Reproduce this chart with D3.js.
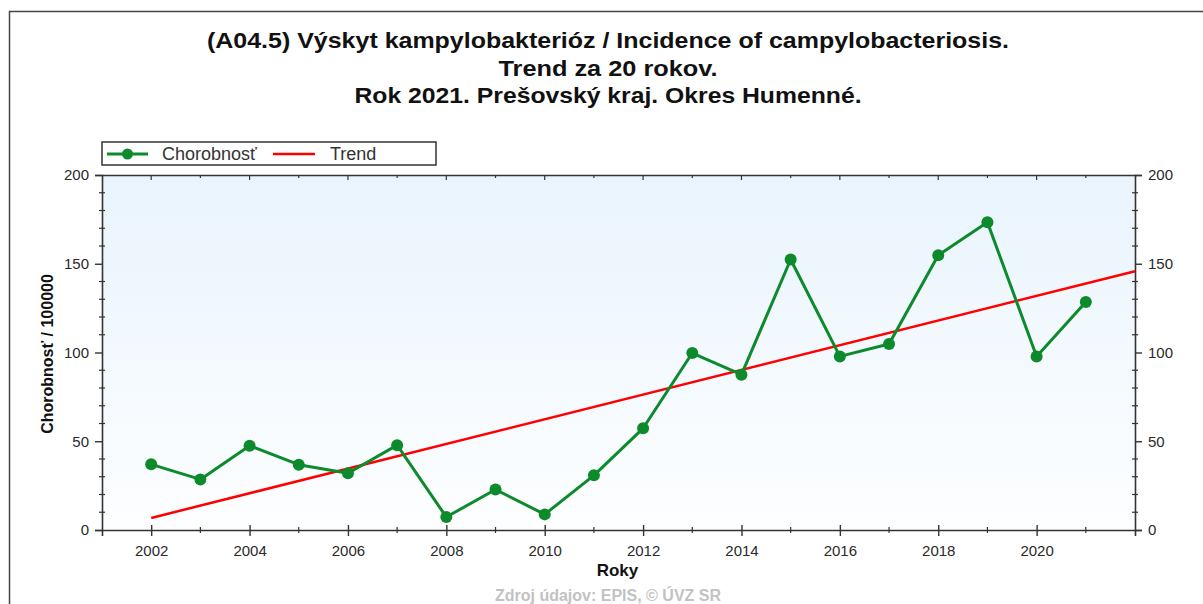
<!DOCTYPE html>
<html><head><meta charset="utf-8">
<script src="https://cdn.jsdelivr.net/npm/d3@7"></script>
<style>html,body{margin:0;padding:0;background:#fff;}svg{display:block;font-family:"Liberation Sans",Arial,sans-serif;}</style>
</head><body>
<script>
const years = [2002,2003,2004,2005,2006,2007,2008,2009,2010,2011,2012,2013,2014,2015,2016,2017,2018,2019,2020,2021];
const values = [37,28.5,47.5,36.8,32,47.8,7.3,22.8,8.8,30.8,57.3,99.7,87.5,152.4,97.8,104.8,154.8,173.4,97.8,128.4];
const trendYears = [2002,2022];
const trendValues = [6.8,145.8];
const xTickLabels = [2002,2004,2006,2008,2010,2012,2014,2016,2018,2020];
const yTickLabels = [0,50,100,150,200];
const titleLines = ["(A04.5) Výskyt kampylobakterióz / Incidence of campylobacteriosis.","Trend za 20 rokov.","Rok 2021. Prešovský kraj. Okres Humenné."];
const titleWidths = [802,219,507];
const seriesNames = ["Chorobnosť","Trend"];

const W=1203,H=604;
const L=102,R=1135,T=175,B=530;
const green="#0d8a2c", red="#ff0000", axisC="#333";
const svg=d3.select("body").append("svg").attr("width",W).attr("height",H);
const defs=svg.append("defs");
const g=defs.append("linearGradient").attr("id","bg").attr("x1",0).attr("y1",0).attr("x2",0).attr("y2",1);
g.append("stop").attr("offset","0%").attr("stop-color","#e9f4fd");
g.append("stop").attr("offset","100%").attr("stop-color","#fdfeff");

// outer frame
svg.append("rect").attr("x",9.5).attr("y",11.5).attr("width",1300).attr("height",700).attr("fill","none").attr("stroke","#444").attr("stroke-width",1.5);

// title
svg.append("g").selectAll("text").data(titleLines).join("text")
 .attr("x",608).attr("y",(d,i)=>48+i*27.5).attr("text-anchor","middle")
 .attr("font-size",22).attr("font-weight","bold").attr("fill","#111")
 .attr("textLength",(d,i)=>titleWidths[i]).attr("lengthAdjust","spacingAndGlyphs").text(d=>d);

const x=d3.scaleLinear().domain([2001,2022]).range([L,R]);
const y=d3.scaleLinear().domain([0,200]).range([B,T]);

svg.append("rect").attr("x",L).attr("y",T).attr("width",R-L).attr("height",B-T).attr("fill","url(#bg)");

// axes
const allYears=d3.range(2002,2022);
const minorY=d3.range(0,201,10).filter(v=>v%50!==0);
function styleAxis(sel){sel.attr("font-size",15).attr("font-family",null);sel.select(".domain").attr("stroke",axisC).attr("stroke-width",1.6);sel.selectAll(".tick line").attr("stroke",axisC).attr("stroke-width",1.4);sel.selectAll("text").attr("fill","#2a2a2a").attr("font-size",15);}
// bottom major
const bx=svg.append("g").attr("transform",`translate(0,${B})`).call(d3.axisBottom(x).tickValues(xTickLabels).tickFormat(d3.format("d")).tickSizeOuter(0).tickSize(6).tickPadding(6));
styleAxis(bx);
bx.selectAll(".tick line").attr("y1",-5);
bx.selectAll(".tick text").attr("y",25.5).attr("dy",0);
// bottom minor
svg.append("g").selectAll("line").data(allYears.filter(v=>v%2===1)).join("line")
 .attr("x1",d=>x(d)).attr("x2",d=>x(d)).attr("y1",B-3).attr("y2",B+3).attr("stroke",axisC).attr("stroke-width",1.2);
// top
const tx=svg.append("g").attr("transform",`translate(0,${T})`).call(d3.axisTop(x).tickValues(allYears).tickFormat("").tickSizeOuter(0).tickSize(0));
styleAxis(tx);
svg.append("g").selectAll("line").data(allYears).join("line")
 .attr("x1",d=>x(d)).attr("x2",d=>x(d)).attr("y1",T).attr("y2",d=>T+(d%2===0?5:3)).attr("stroke",axisC).attr("stroke-width",1.2);
// left
const ly=svg.append("g").attr("transform",`translate(${L},0)`).call(d3.axisLeft(y).tickValues(yTickLabels).tickSizeOuter(0).tickSize(7).tickPadding(6));
styleAxis(ly);
svg.append("g").selectAll("line").data(minorY).join("line")
 .attr("x1",L-3).attr("x2",L+3).attr("y1",d=>y(d)).attr("y2",d=>y(d)).attr("stroke",axisC).attr("stroke-width",1.2);
// right
const ry=svg.append("g").attr("transform",`translate(${R},0)`).call(d3.axisRight(y).tickValues(yTickLabels).tickSizeOuter(0).tickSize(7).tickPadding(6));
styleAxis(ry);
svg.append("g").selectAll("line").data(minorY).join("line")
 .attr("x1",R-3).attr("x2",R+3).attr("y1",d=>y(d)).attr("y2",d=>y(d)).attr("stroke",axisC).attr("stroke-width",1.2);

// axis titles
svg.append("text").attr("x",(L+R)/2-1).attr("y",576).attr("text-anchor","middle").attr("font-size",17).attr("font-weight","bold").attr("fill","#111").text("Roky");
svg.append("text").attr("transform",`translate(53,354) rotate(-90)`).attr("text-anchor","middle").attr("font-size",16).attr("font-weight","bold").attr("fill","#111").text("Chorobnosť / 100000");
svg.append("text").attr("x",608).attr("y",601).attr("text-anchor","middle").attr("font-size",16).attr("font-weight","bold").attr("fill","#c2c2c2").text("Zdroj údajov: EPIS, © ÚVZ SR");

// trend
svg.append("path").datum(trendYears.map((d,i)=>[d,trendValues[i]]))
 .attr("d",d3.line().x(d=>x(d[0])).y(d=>y(d[1]))).attr("fill","none").attr("stroke",red).attr("stroke-width",2.5);
// series
const pts=years.map((d,i)=>[d,values[i]]);
svg.append("path").datum(pts).attr("d",d3.line().x(d=>x(d[0])).y(d=>y(d[1])))
 .attr("fill","none").attr("stroke",green).attr("stroke-width",3).attr("stroke-linejoin","round");
svg.append("g").selectAll("circle").data(pts).join("circle")
 .attr("cx",d=>x(d[0])).attr("cy",d=>y(d[1])).attr("r",6).attr("fill",green);

// legend
const lg=svg.append("g");
lg.append("rect").attr("x",102).attr("y",142).attr("width",334).attr("height",23).attr("fill","#fff").attr("stroke","#333").attr("stroke-width",1.5);
lg.append("line").attr("x1",107).attr("x2",148).attr("y1",154).attr("y2",154).attr("stroke",green).attr("stroke-width",3);
lg.append("circle").attr("cx",127.5).attr("cy",154).attr("r",5.5).attr("fill",green);
lg.append("line").attr("x1",273).attr("x2",315).attr("y1",154).attr("y2",154).attr("stroke",red).attr("stroke-width",2.5);
lg.selectAll("text").data(seriesNames).join("text").attr("x",(d,i)=>i===0?162:330).attr("y",160)
 .attr("font-size",18).attr("fill","#333").text(d=>d);
</script>
</body></html>
